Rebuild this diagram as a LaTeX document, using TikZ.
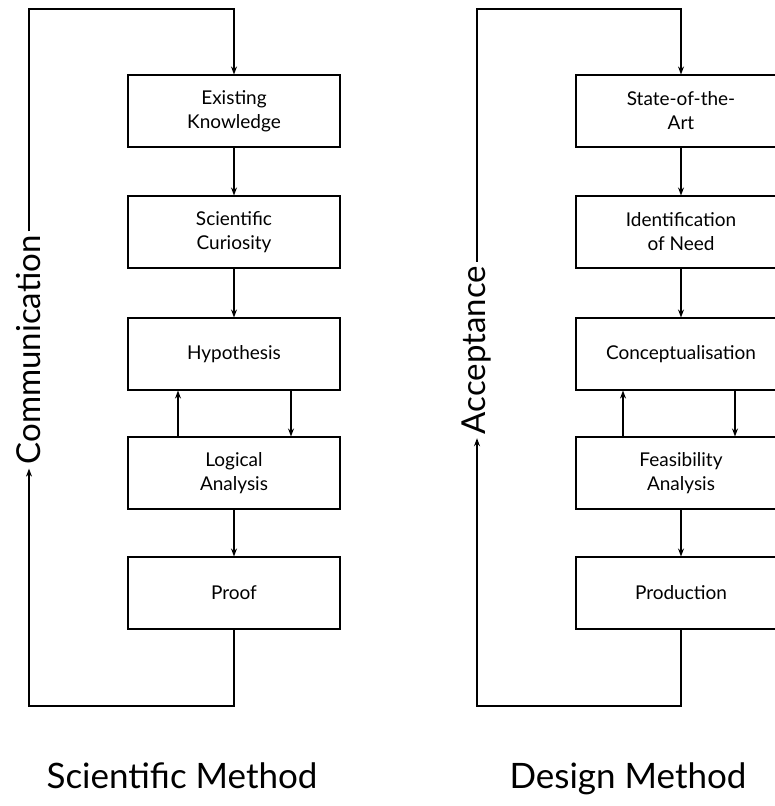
\documentclass[tikz,border=0pt]{standalone}
\usepackage{fontspec}
\setmainfont{Lato}
\usetikzlibrary{arrows.meta}
\begin{document}
\begin{tikzpicture}[x=1pt,y=-1pt,
  box/.style={draw,line width=1.1pt,minimum height=72pt,align=center,
    font=\fontsize{19}{24}\selectfont,inner sep=0pt},
  lbox/.style={box,minimum width=212pt},
  rbox/.style={box,minimum width=210pt},
  side/.style={rotate=90,font=\fontsize{33}{33}\selectfont,inner sep=4pt},
  title/.style={font=\fontsize{35}{35}\selectfont,anchor=base},
  wire/.style={line width=1.1pt},
  flow/.style={wire,-{Stealth[length=8pt,width=6pt]}},
]
\useasboundingbox (0,0) rectangle (775,806);
\clip (0,0) rectangle (775,806);

% Scientific method column
\node[lbox] (s1) at (234,111) {Existing\\Knowledge};
\node[lbox] (s2) at (234,232) {Scientific\\Curiosity};
\node[lbox] (s3) at (234,354) {Hypothesis};
\node[lbox] (s4) at (234,473) {Logical\\Analysis};
\node[lbox] (s5) at (234,593) {Proof};
\node[side] (comm) at (29,350) {Communication};

\draw[flow] (s1) -- (s2);
\draw[flow] (s2) -- (s3);
\draw[flow] ([xshift=-56pt]s4.north) -- ([xshift=-56pt]s3.south);
\draw[flow] ([xshift=57pt]s3.south) -- ([xshift=57pt]s4.north);
\draw[flow] (s4) -- (s5);
\draw[flow] (comm.east) -- (29,9) -| (s1.north);
\draw[flow] (s5.south) -- (234,706) -| (comm.west);

% Design method column
\node[rbox] (d1) at (681,111) {State-of-the-\\Art};
\node[rbox] (d2) at (681,232) {Identification\\of Need};
\node[rbox] (d3) at (681,354) {Conceptualisation};
\node[rbox] (d4) at (681,473) {Feasibility\\Analysis};
\node[rbox] (d5) at (681,593) {Production};
\node[side] (acc) at (477,350) {Acceptance};

\draw[flow] (d1) -- (d2);
\draw[flow] (d2) -- (d3);
\draw[flow] ([xshift=-58pt]d4.north) -- ([xshift=-58pt]d3.south);
\draw[flow] ([xshift=54pt]d3.south) -- ([xshift=54pt]d4.north);
\draw[flow] (d4) -- (d5);
\draw[flow] (acc.east) -- (477,9) -| (d1.north);
\draw[flow] (d5.south) -- (681,706) -| (acc.west);

% Column titles
\node[title] (t1) at (182,788) {Scientific Method};
\node[title] (t2) at (628,788) {Design Method};
\end{tikzpicture}
\end{document}
